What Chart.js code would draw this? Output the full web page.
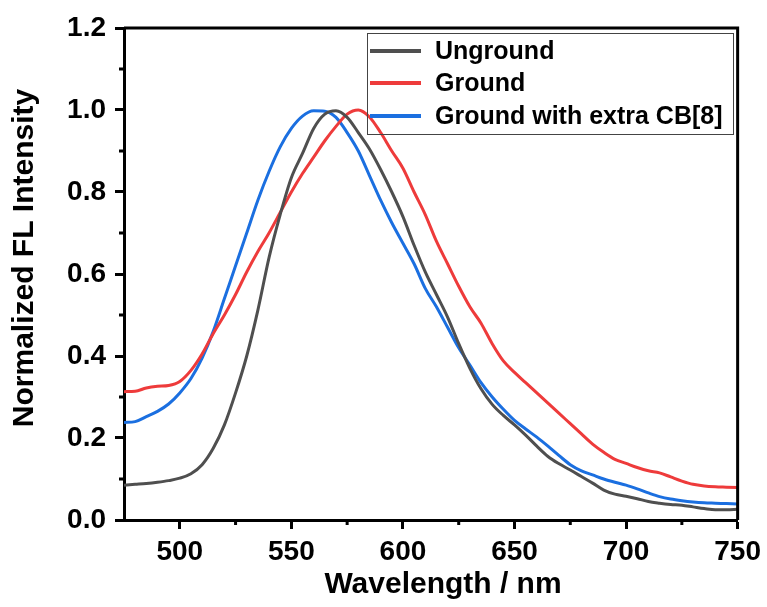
<!DOCTYPE html>
<html>
<head>
<meta charset="utf-8">
<script src="https://cdn.jsdelivr.net/npm/chart.js@4/dist/chart.umd.min.js"></script>
<style>
html,body{margin:0;padding:0;background:#fff;}
canvas{display:block;}
</style>
</head>
<body>
<canvas id="c" width="767" height="607"></canvas>
<script>
const wavelengths = [475,480,485,490,495,500,505,510,515,520,525,530,535,540,545,550,555,560,565,570,575,580,585,590,595,600,605,610,615,620,625,630,635,640,645,650,655,660,665,670,675,680,685,690,695,700,705,710,715,720,725,730,735,740,745,750];
const unground = [0.085,0.087,0.089,0.092,0.096,0.102,0.113,0.135,0.175,0.232,0.31,0.40,0.512,0.64,0.745,0.835,0.894,0.955,0.99,0.998,0.982,0.945,0.905,0.855,0.80,0.74,0.67,0.605,0.55,0.495,0.43,0.37,0.32,0.282,0.255,0.232,0.207,0.18,0.155,0.137,0.122,0.106,0.09,0.073,0.063,0.058,0.052,0.045,0.041,0.038,0.036,0.032,0.028,0.025,0.025,0.026];
const ground = [0.313,0.314,0.322,0.326,0.328,0.338,0.365,0.405,0.455,0.50,0.55,0.605,0.655,0.70,0.75,0.80,0.845,0.885,0.925,0.96,0.99,1.0,0.983,0.945,0.90,0.858,0.80,0.745,0.68,0.625,0.57,0.52,0.48,0.43,0.388,0.36,0.335,0.31,0.285,0.26,0.235,0.21,0.185,0.165,0.148,0.138,0.128,0.12,0.115,0.105,0.095,0.087,0.083,0.081,0.080,0.079];
const groundExtra = [0.238,0.240,0.252,0.265,0.283,0.31,0.345,0.395,0.46,0.54,0.62,0.70,0.78,0.85,0.91,0.955,0.985,0.998,0.997,0.982,0.945,0.90,0.84,0.78,0.725,0.675,0.625,0.565,0.52,0.47,0.42,0.378,0.335,0.30,0.27,0.243,0.222,0.202,0.18,0.157,0.135,0.12,0.11,0.10,0.092,0.085,0.076,0.066,0.057,0.051,0.047,0.044,0.042,0.041,0.040,0.039];
const seriesLabels = ["Unground","Ground","Ground with extra CB[8]"];
const seriesColors = ["#4f4f4f","#ee3b3b","#1b6fe0"];
const xTicks = [500,550,600,650,700,750];
const xMinorTicks = [525,575,625,675,725];
const yTicks = [0,0.2,0.4,0.6,0.8,1.0,1.2];
const yMinorTicks = [0.1,0.3,0.5,0.7,0.9,1.1];
const xTitle = "Wavelength / nm";
const yTitle = "Normalized FL Intensity";

const FONT = "'Liberation Sans', Arial, sans-serif";
const allSeries = [unground, ground, groundExtra];

const datasets = allSeries.map((vals, i) => ({
  label: seriesLabels[i],
  data: wavelengths.map((w, j) => ({x: w, y: vals[j]})),
  borderColor: seriesColors[i],
  borderWidth: 3,
  pointRadius: 0,
  fill: false,
  cubicInterpolationMode: 'monotone',
  showLine: true
}));

const decor = {
  id: 'decor',
  afterDraw(chart) {
    const ctx = chart.ctx;
    const a = chart.chartArea;
    const xs = chart.scales.x, ys = chart.scales.y;
    ctx.save();
    // frame top & right
    ctx.strokeStyle = '#000';
    ctx.lineWidth = 3;
    ctx.beginPath();
    ctx.moveTo(a.left, a.top);
    ctx.lineTo(a.right, a.top);
    ctx.lineTo(a.right, a.bottom);
    ctx.stroke();
    // minor ticks
    ctx.lineWidth = 3;
    ctx.beginPath();
    xMinorTicks.forEach(v => {
      const px = xs.getPixelForValue(v);
      ctx.moveTo(px, a.bottom);
      ctx.lineTo(px, a.bottom + 5);
    });
    yMinorTicks.forEach(v => {
      const py = ys.getPixelForValue(v);
      ctx.moveTo(a.left, py);
      ctx.lineTo(a.left - 5, py);
    });
    ctx.stroke();
    // legend
    ctx.lineWidth = 1;
    ctx.strokeStyle = '#444';
    ctx.strokeRect(367.5, 33.5, 366, 101);
    ctx.font = 'bold 25px ' + FONT;
    ctx.textBaseline = 'middle';
    ctx.textAlign = 'left';
    const rows = [51, 83, 116];
    chart.data.datasets.forEach((ds, i) => {
      ctx.strokeStyle = ds.borderColor;
      ctx.lineWidth = 4;
      ctx.beginPath();
      ctx.moveTo(370, rows[i]);
      ctx.lineTo(421, rows[i]);
      ctx.stroke();
      ctx.fillStyle = '#000';
      ctx.fillText(ds.label, 435, rows[i] + 1);
    });
    // axis titles
    ctx.font = 'bold 30px ' + FONT;
    ctx.fillStyle = '#000';
    ctx.textAlign = 'center';
    ctx.textBaseline = 'middle';
    ctx.fillText(xTitle, 443, 585);
    ctx.translate(25, 258);
    ctx.rotate(-Math.PI / 2);
    ctx.fillText(yTitle, 0, 0);
    ctx.restore();
  }
};

new Chart(document.getElementById('c'), {
  type: 'scatter',
  data: { datasets },
  options: {
    responsive: false,
    animation: false,
    layout: { padding: { top: 28, right: 29, left: 0, bottom: 0 } },
    plugins: { legend: { display: false }, tooltip: { enabled: false } },
    scales: {
      x: {
        type: 'linear',
        min: 475, max: 750,
        afterFit(s) { s.height = 87; },
        afterBuildTicks(s) { s.ticks = xTicks.map(v => ({value: v})); },
        grid: { display: true, drawOnChartArea: false, drawTicks: true, tickLength: 9, tickWidth: 3, tickColor: '#000' },
        border: { display: true, width: 3, color: '#000' },
        ticks: { color: '#000', font: { family: FONT, size: 28, weight: 'bold' }, padding: 6, maxRotation: 0 }
      },
      y: {
        type: 'linear',
        min: 0, max: 1.2,
        afterFit(s) { s.width = 124; },
        afterBuildTicks(s) { s.ticks = yTicks.map(v => ({value: v})); },
        grid: { display: true, drawOnChartArea: false, drawTicks: true, tickLength: 9, tickWidth: 3, tickColor: '#000' },
        border: { display: true, width: 3, color: '#000' },
        ticks: { color: '#000', font: { family: FONT, size: 28, weight: 'bold' }, padding: 9, callback: v => Number(v).toFixed(1) }
      }
    }
  },
  plugins: [decor]
});
</script>
</body>
</html>
